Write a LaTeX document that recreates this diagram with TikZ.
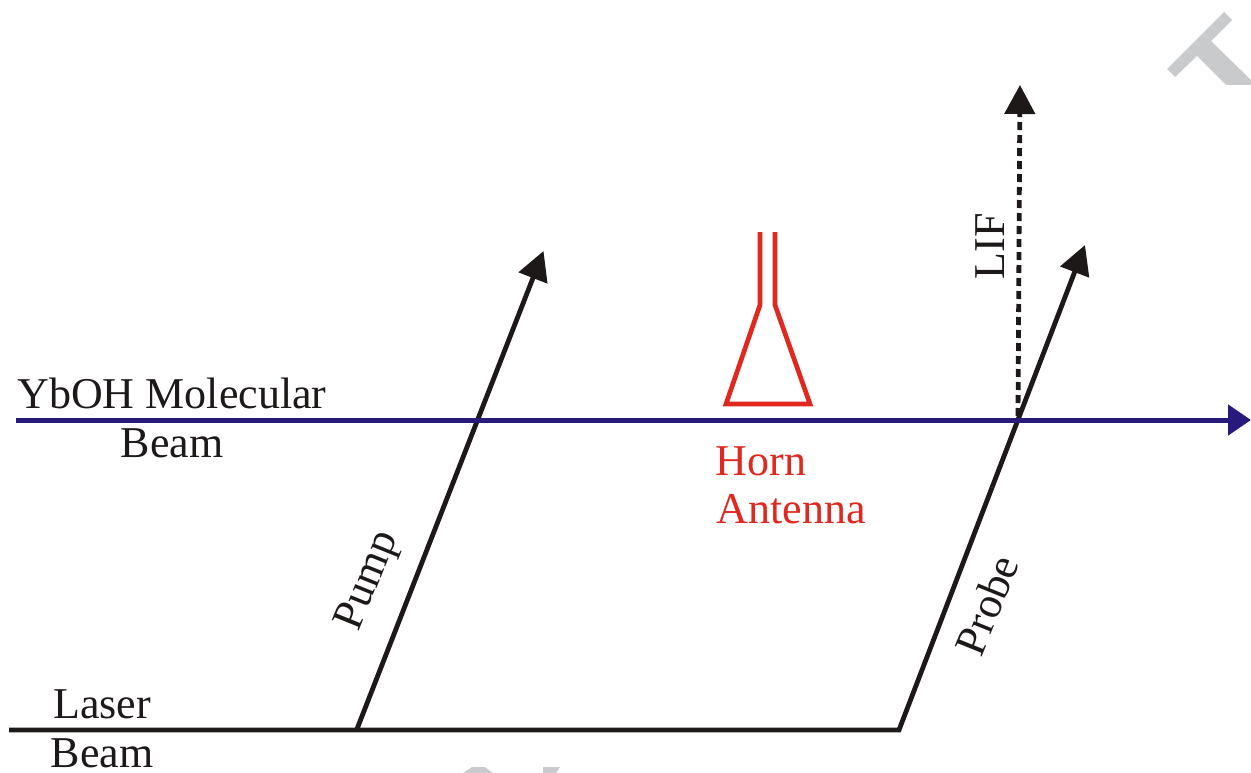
\documentclass[tikz,border=0pt]{standalone}
\usepackage{fontspec}
\setmainfont{Liberation Serif}
\usetikzlibrary{arrows.meta}
\definecolor{ink}{RGB}{30,25,25}
\definecolor{navy}{RGB}{40,25,125}
\definecolor{hornred}{RGB}{225,40,30}
\definecolor{wm}{RGB}{200,202,204}
\tikzset{
  x=1pt,y=-1pt,
  beam/.style={draw=ink,line width=4.8pt},
  ray/.style={beam,-{Triangle[length=29pt,width=30pt]}},
  dashray/.style={beam,dash pattern=on 8pt off 5pt,-{Triangle[length=29pt,width=30pt,sep=5pt]}},
  mol/.style={draw=navy,line width=5pt,-{Triangle[length=23pt,width=30pt]}},
  horn/.style={draw=hornred,line width=4.7pt,line join=miter},
  lab/.style={font=\fontsize{44}{44}\selectfont,text=ink,inner sep=0pt},
  redlab/.style={lab,text=hornred}
}
\begin{document}
\begin{tikzpicture}
\useasboundingbox (0,0) rectangle (1251,773);
% watermark fragments
\fill[wm] (1224,12)--(1232,20)--(1211,41)--(1251,80)--(1251,85)--(1226,85)--(1197,56)--(1175,77)--(1167,69)--cycle;
\fill[wm] (463,773)--(472,767)--(485,767)--(493,773)--cycle;
\fill[wm] (543,767)--(560,767)--(556,773)--(543,773)--cycle;
% coordinates
\coordinate (laserL) at (9,730);
\coordinate (pumpO) at (357,729);
\coordinate (probeO) at (899,730);
\coordinate (probeK) at (992,487.5);
\coordinate (pumpT) at (543.5,251);
\coordinate (probeT) at (1085,245);
\coordinate (molL) at (16,420);
\coordinate (molR) at (1251,420);
\coordinate (lifO) at (1018,416);
\coordinate (lifT) at (1020,80);
% laser
\draw[beam,line join=miter] (laserL) -- (probeO) -- (probeK);
\draw[ray] (pumpO) -- (pumpT);
\draw[ray] (probeK) -- (probeT);
% LIF
\draw[dashray] (lifO) -- (lifT);
% molecular beam
\draw[mol] (molL) -- (molR);
% horn
\draw[horn] (760,232) -- (760,305) -- (726,404) -- (810,404) -- (775,305) -- (775,232);
% labels
\node[lab,anchor=base] (t1) at (172,408) {YbOH Molecular};
\node[lab,anchor=base] (t2) at (172,457) {Beam};
\node[lab,anchor=base] (t3) at (102,718) {Laser};
\node[lab,anchor=base] (t4) at (102,767) {Beam};
\node[redlab,anchor=base] (t5) at (761,475) {Horn};
\node[redlab,anchor=base] (t6) at (791,523) {Antenna};
\node[lab,rotate=68] (t7) at (369,581) {Pump};
\node[lab,rotate=68] (t8) at (987,605) {Probe};
\node[lab,rotate=90] (t9) at (990,246) {LIF};
\end{tikzpicture}
\end{document}
